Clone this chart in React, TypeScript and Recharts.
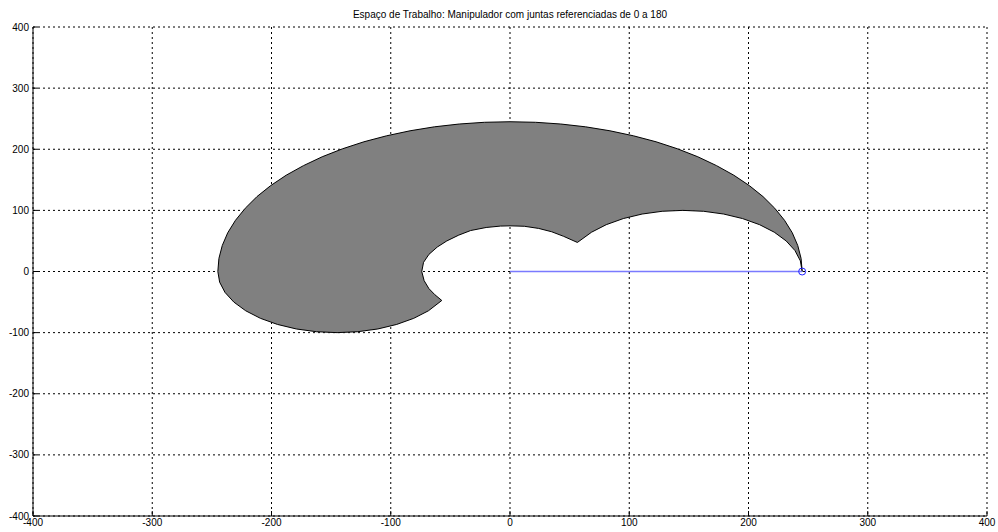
import React from 'react';
import { ComposedChart, Area, Line, XAxis, YAxis, CartesianGrid } from 'recharts';

const axisTicks = [-400, -300, -200, -100, 0, 100, 200, 300, 400];
const titleText = 'Espaço de Trabalho: Manipulador com juntas referenciadas de 0 a 180';

// outer boundary (upper arc), from (245,0) counter-clockwise to (-245,0)
const outerArc: [number, number][] = [
  [245, 0], [244.1, 21.4], [241.3, 42.5], [236.7, 63.4], [230.2, 83.8], [222, 103.5],
  [212.2, 122.5], [200.7, 140.5], [187.7, 157.5], [173.2, 173.2], [157.5, 187.7],
  [140.5, 200.7], [122.5, 212.2], [103.5, 222], [83.8, 230.2], [63.4, 236.7],
  [42.5, 241.3], [21.4, 244.1], [0, 245], [-21.4, 244.1], [-42.5, 241.3],
  [-63.4, 236.7], [-83.8, 230.2], [-103.5, 222], [-122.5, 212.2], [-140.5, 200.7],
  [-157.5, 187.7], [-173.2, 173.2], [-187.7, 157.5], [-200.7, 140.5], [-212.2, 122.5],
  [-222, 103.5], [-230.2, 83.8], [-236.7, 63.4], [-241.3, 42.5], [-244.1, 21.4], [-245, 0],
];

// lower-left lobe, from (-245,0) down to the tip
const lowerLobe: [number, number][] = [
  [-243.5, -17.4], [-239, -34.2], [-231.6, -50], [-221.6, -64.3], [-209.3, -76.6],
  [-195, -86.6], [-179.2, -94], [-162.4, -98.5], [-145, -100], [-127.6, -98.5],
  [-110.8, -94], [-95, -86.6], [-80.7, -76.6], [-68.4, -64.3], [-57.2, -47.4],
];

// inner hole, left part: from the tip up to the cusp
const innerLeft: [number, number][] = [
  [-63, -38], [-68, -28], [-72, -15], [-74, 0], [-72.5, 15], [-68, 28], [-61, 40],
  [-53, 50], [-43, 59.5], [-33, 67], [-20, 72], [-8, 74.3], [0, 74.7], [12, 74],
  [24, 70.5], [35, 65], [45, 57.5], [56.5, 47.5],
];

// inner hole, right arc: from the cusp back to (245,0)
const innerRight: [number, number][] = [
  [68.4, 64.3], [80.7, 76.6], [95, 86.6], [110.8, 94], [127.6, 98.5], [145, 100],
  [162.4, 98.5], [179.2, 94], [195, 86.6], [209.3, 76.6], [221.6, 64.3], [231.6, 50],
  [239, 34.2], [243.5, 17.4], [245, 0],
];

const armX = [0, 245];
const armY = [0, 0];

const workspace = [...outerArc, ...lowerLobe, ...innerLeft, ...innerRight].map(([x, y]) => ({ x, y }));
const arm = armX.map((x, i) => ({ x, y: armY[i] }));

const font = 'Liberation Sans, Arial, sans-serif';
const tickStyle = { fontSize: 10, fill: '#000', fontFamily: font };
const chartMargin = { top: 27, right: 11, bottom: 0, left: 0 };

const ArmDot = (p: any) =>
  p.index === armX.length - 1 ? (
    <circle key={p.key} cx={p.cx} cy={p.cy} r={3.5} stroke="#2020ff" strokeWidth={1} fill="none" />
  ) : (
    <g key={p.key} />
  );

export default function App() {
  return (
    <div style={{ position: 'absolute', left: 0, top: 0, width: 998, height: 532, background: '#fff' }}>
      <div
        style={{
          position: 'absolute',
          left: 33,
          top: 9,
          width: 954,
          textAlign: 'center',
          fontFamily: font,
          fontSize: 10,
          color: '#000',
          lineHeight: '12px',
        }}
      >
        {titleText}
      </div>
      <div style={{ position: 'absolute', left: 0, top: 0 }}>
        <ComposedChart width={998} height={532} margin={chartMargin}>
          <XAxis
            type="number"
            dataKey="x"
            domain={[-400, 400]}
            ticks={axisTicks}
            interval={0}
            allowDataOverflow
            height={16}
            tickSize={-5}
            tickMargin={8}
            axisLine={{ stroke: '#000' }}
            tickLine={{ stroke: '#000' }}
            tick={tickStyle}
          />
          <YAxis
            type="number"
            domain={[-400, 400]}
            ticks={axisTicks}
            interval={0}
            allowDataOverflow
            width={33}
            tickSize={-5}
            tickMargin={9}
            axisLine={{ stroke: '#000' }}
            tickLine={{ stroke: '#000' }}
            tick={tickStyle}
          />
          <Area
            data={workspace}
            dataKey="y"
            type="linear"
            baseValue={0}
            fill="#808080"
            fillOpacity={1}
            stroke="#000"
            strokeWidth={1}
            dot={false}
            activeDot={false}
            isAnimationActive={false}
          />
          <CartesianGrid stroke="#000" strokeDasharray="2 3" />
        </ComposedChart>
      </div>
      <div style={{ position: 'absolute', left: 0, top: 0 }}>
        <ComposedChart width={998} height={532} margin={chartMargin}>
          <XAxis
            type="number"
            dataKey="x"
            domain={[-400, 400]}
            ticks={axisTicks}
            allowDataOverflow
            height={16}
            axisLine={false}
            tickLine={false}
            tick={false}
          />
          <YAxis
            type="number"
            domain={[-400, 400]}
            ticks={axisTicks}
            allowDataOverflow
            width={33}
            axisLine={false}
            tickLine={false}
            tick={false}
          />
          <Line
            data={arm}
            dataKey="y"
            type="linear"
            stroke="#7a7aff"
            strokeWidth={1.6}
            dot={ArmDot}
            activeDot={false}
            isAnimationActive={false}
          />
        </ComposedChart>
      </div>
    </div>
  );
}
